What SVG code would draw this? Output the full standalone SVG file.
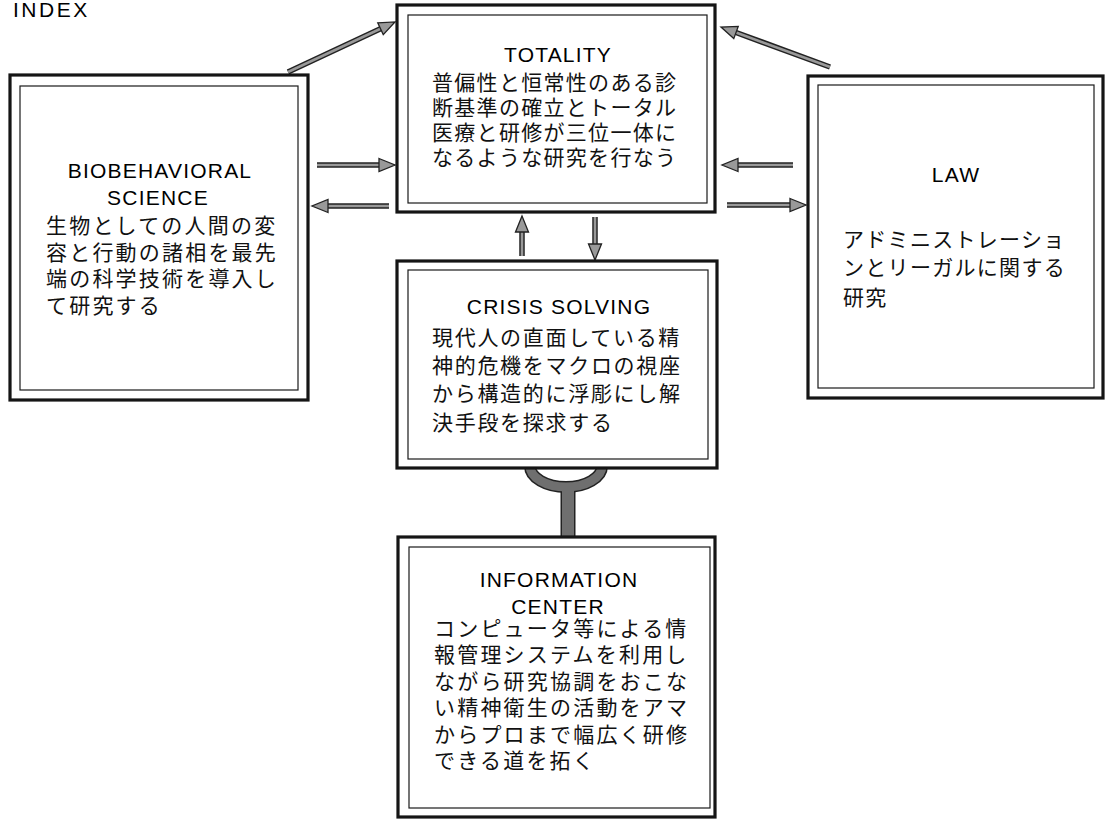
<svg xmlns="http://www.w3.org/2000/svg" width="1109" height="819" viewBox="0 0 1109 819">
<style>
.bg{fill:#ffffff}
.outer{fill:#ffffff;stroke:#151515;stroke-width:3.2}
.inner{fill:none;stroke:#1a1a1a;stroke-width:1.2}
.ttl{font-family:"Liberation Sans",Arial,sans-serif;font-size:21px;letter-spacing:1.2px;fill:#000;text-anchor:middle}
.jp{font-family:"Noto Sans CJK JP","Noto Sans CJK SC",sans-serif;font-size:21px;fill:#111}
.sh-o{stroke:#222;stroke-width:5.5;fill:none}
.sh-i{stroke:#999;stroke-width:2.6;fill:none}
.cup-o{stroke:#222;fill:none}
.cup-i{stroke:#6f6f6f;fill:none}
</style>
<defs>
<marker id="ah" markerUnits="userSpaceOnUse" markerWidth="22" markerHeight="18" viewBox="-2 -9 22 18" refX="0" refY="0" orient="auto" overflow="visible">
<path d="M0,-6.5 L16,0 L0,6.5 Z" fill="#999" stroke="#222" stroke-width="1.3" stroke-linejoin="miter"/>
</marker>
</defs>
<rect class="bg" x="0" y="0" width="1109" height="819"/>
<text x="13" y="17" font-family="Liberation Sans, Arial, sans-serif" font-size="21" letter-spacing="2.5" fill="#000">INDEX</text>

<g id="connectors">
<g id="bio-to-totality-diag"><line class="sh-o" x1="288" y1="72" x2="380.5" y2="28.7"/><line class="sh-i" x1="288" y1="72" x2="380.5" y2="28.7" marker-end="url(#ah)"/></g>
<g id="bio-to-totality"><line class="sh-o" x1="317" y1="165" x2="379" y2="165"/><line class="sh-i" x1="317" y1="165" x2="379" y2="165" marker-end="url(#ah)"/></g>
<g id="totality-to-bio"><line class="sh-o" x1="389" y1="206" x2="328" y2="206"/><line class="sh-i" x1="389" y1="206" x2="328" y2="206" marker-end="url(#ah)"/></g>
<g id="law-to-totality-diag"><line class="sh-o" x1="830" y1="67" x2="736" y2="32.5"/><line class="sh-i" x1="830" y1="67" x2="736" y2="32.5" marker-end="url(#ah)"/></g>
<g id="law-to-totality"><line class="sh-o" x1="793" y1="165" x2="738" y2="165"/><line class="sh-i" x1="793" y1="165" x2="738" y2="165" marker-end="url(#ah)"/></g>
<g id="totality-to-law"><line class="sh-o" x1="727" y1="205" x2="790" y2="205"/><line class="sh-i" x1="727" y1="205" x2="790" y2="205" marker-end="url(#ah)"/></g>
<g id="crisis-to-totality"><line class="sh-o" x1="522" y1="256" x2="522" y2="232"/><line class="sh-i" x1="522" y1="256" x2="522" y2="232" marker-end="url(#ah)"/></g>
<g id="totality-to-crisis"><line class="sh-o" x1="595" y1="217" x2="595" y2="244"/><line class="sh-i" x1="595" y1="217" x2="595" y2="244" marker-end="url(#ah)"/></g>
<g id="crisis-info-link">
<path class="cup-o" stroke-width="12" d="M530,466 A36,21 0 0 0 602,466"/>
<line class="cup-o" stroke-width="15" x1="568" y1="485" x2="568" y2="538"/>
<path class="cup-i" stroke-width="9" d="M530,466 A36,21 0 0 0 602,466"/>
<line class="cup-i" stroke-width="12" x1="568" y1="485" x2="568" y2="538"/>
</g>
</g>

<g id="biobehavioral">
<rect class="outer" x="10" y="75" width="298" height="325"/>
<rect class="inner" x="20" y="86" width="278" height="304"/>
<text class="ttl"><tspan x="160" y="178">BIOBEHAVIORAL</tspan><tspan x="158" y="205">SCIENCE</tspan></text>
<text class="jp" letter-spacing="2.2"><tspan x="46" y="233">生物としての人間の変</tspan><tspan x="46" y="260">容と行動の諸相を最先</tspan><tspan x="46" y="286">端の科学技術を導入し</tspan><tspan x="46" y="313">て研究する</tspan></text>
</g>

<g id="totality">
<rect class="outer" x="397" y="5" width="318" height="207"/>
<rect class="inner" x="408" y="15" width="299" height="188"/>
<text class="ttl" x="558" y="62">TOTALITY</text>
<text class="jp" letter-spacing="1.3"><tspan x="432" y="90">普偏性と恒常性のある診</tspan><tspan x="432" y="115">断基準の確立とトータル</tspan><tspan x="432" y="140">医療と研修が三位一体に</tspan><tspan x="432" y="165">なるような研究を行なう</tspan></text>
</g>

<g id="law">
<rect class="outer" x="808" y="76" width="295" height="322"/>
<rect class="inner" x="818" y="85" width="276" height="303"/>
<text class="ttl" x="956" y="182">LAW</text>
<text class="jp" letter-spacing="1.3"><tspan x="843" y="247">アドミニストレーショ</tspan><tspan x="843" y="275">ンとリーガルに関する</tspan><tspan x="843" y="305">研究</tspan></text>
</g>

<g id="crisis-solving">
<rect class="outer" x="397" y="261" width="320" height="207"/>
<rect class="inner" x="408" y="270" width="300" height="189"/>
<text class="ttl" x="559" y="314">CRISIS SOLVING</text>
<text class="jp" letter-spacing="1.7"><tspan x="432" y="345">現代人の直面している精</tspan><tspan x="432" y="373">神的危機をマクロの視座</tspan><tspan x="432" y="401">から構造的に浮彫にし解</tspan><tspan x="432" y="430">決手段を探求する</tspan></text>
</g>

<g id="information-center">
<rect class="outer" x="398" y="537" width="317" height="280"/>
<rect class="inner" x="409" y="547" width="301" height="261"/>
<text class="ttl"><tspan x="559" y="587">INFORMATION</tspan><tspan x="558" y="614">CENTER</tspan></text>
<text class="jp" letter-spacing="2.2"><tspan x="434" y="636">コンピュータ等による情</tspan><tspan x="434" y="662">報管理システムを利用し</tspan><tspan x="434" y="688.5">ながら研究協調をおこな</tspan><tspan x="434" y="715">い精神衛生の活動をアマ</tspan><tspan x="434" y="741.5">からプロまで幅広く研修</tspan><tspan x="434" y="768">できる道を拓く</tspan></text>
</g>
</svg>
